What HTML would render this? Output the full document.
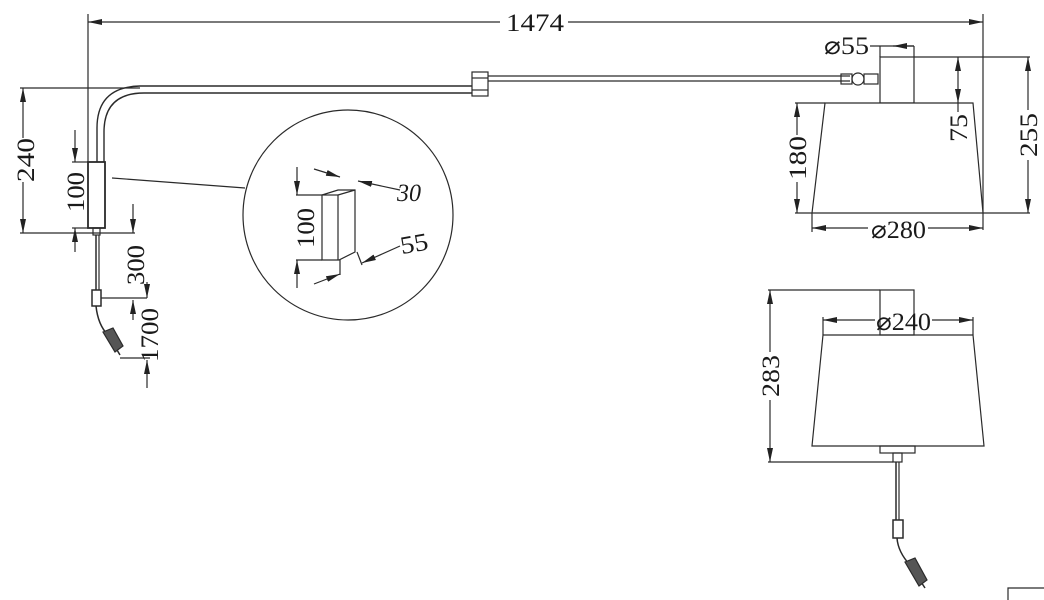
<!DOCTYPE html>
<html><head><meta charset="utf-8"><style>
html,body{margin:0;padding:0;background:#fff;width:1044px;height:600px;overflow:hidden}
text{font-family:"Liberation Serif",serif;fill:#1a1a1a}
</style></head><body>
<svg width="1044" height="600" viewBox="0 0 1044 600" xmlns="http://www.w3.org/2000/svg">
<defs>
<marker id="a" viewBox="0 0 14 6" refX="14" refY="3" markerWidth="14" markerHeight="6" orient="auto-start-reverse" markerUnits="userSpaceOnUse"><path d="M0,0L14,3L0,6z" fill="#222"/></marker>
</defs>
<g stroke="#2a2a2a" stroke-width="1.2" fill="none">
<line x1="88" y1="14" x2="88" y2="162"/>
<line x1="983" y1="14" x2="983" y2="230"/>
<line x1="88" y1="22" x2="500" y2="22" marker-start="url(#a)"/>
<line x1="568" y1="22" x2="983" y2="22" marker-end="url(#a)"/>
<path d="M97,162 V128 Q97,87 140,86 H472" stroke-width="1.4"/>
<path d="M104,162 V132 Q104,93 144,93 H472" stroke-width="1.4"/>
<line x1="488" y1="76" x2="850" y2="76"/>
<line x1="488" y1="81" x2="850" y2="81"/>
<rect x="472" y="72" width="16" height="24" fill="#fff"/>
<line x1="472" y1="78" x2="488" y2="78"/>
<line x1="472" y1="90" x2="488" y2="90"/>
<rect x="88" y="162" width="17" height="66" stroke-width="1.8"/>
<rect x="93" y="228" width="7" height="7"/>
<line x1="96" y1="235" x2="96" y2="290" stroke-width="1.5"/>
<line x1="99" y1="235" x2="99" y2="290"/>
<rect x="92" y="290" width="9" height="16" stroke-width="1.5"/>
<path d="M96,306 Q98,325 108,335 L120,355" stroke-width="1.5"/>
<path d="M103,332 l10,-4 l10,18 l-8,6 z" fill="#555"/>
<line x1="20" y1="88" x2="140" y2="88"/>
<line x1="20" y1="233" x2="135" y2="233"/>
<line x1="23" y1="88" x2="23" y2="138" marker-start="url(#a)"/>
<line x1="23" y1="182" x2="23" y2="233" marker-end="url(#a)"/>
<line x1="72" y1="162" x2="88" y2="162"/>
<line x1="75" y1="130" x2="75" y2="162" marker-end="url(#a)"/>
<line x1="75" y1="252" x2="75" y2="228" marker-end="url(#a)"/>
<line x1="72" y1="228" x2="88" y2="228"/>
<line x1="133" y1="204" x2="133" y2="233" marker-end="url(#a)"/>
<line x1="101" y1="298" x2="147" y2="298"/>
<line x1="147" y1="282" x2="147" y2="298" marker-end="url(#a)"/>
<line x1="133" y1="320" x2="133" y2="300" marker-end="url(#a)"/>
<line x1="120" y1="358" x2="150" y2="358"/>
<line x1="147" y1="388" x2="147" y2="360" marker-end="url(#a)"/>
<line x1="112" y1="178" x2="245" y2="188"/>
<circle cx="348" cy="215" r="105"/>
<path d="M322,195 L338,190 L355,190 L355,252 L339,260 L322,260 Z"/>
<line x1="322" y1="195" x2="338" y2="195"/><line x1="338" y1="195" x2="355" y2="190"/>
<line x1="338" y1="195" x2="338" y2="260"/>
<line x1="296" y1="195" x2="322" y2="195"/>
<line x1="296" y1="260" x2="322" y2="260"/>
<line x1="297" y1="167" x2="297" y2="195" marker-end="url(#a)"/>
<line x1="297" y1="288" x2="297" y2="260" marker-end="url(#a)"/>
<line x1="314" y1="169" x2="340" y2="177" marker-end="url(#a)"/>
<line x1="358" y1="181" x2="400" y2="190" marker-start="url(#a)"/>
<line x1="314" y1="284" x2="340" y2="274" marker-end="url(#a)"/>
<line x1="362" y1="263" x2="400" y2="246" marker-start="url(#a)"/>
<line x1="340" y1="260" x2="340" y2="275"/><line x1="357" y1="252" x2="362" y2="265"/>
<circle cx="858" cy="79" r="6" fill="#fff"/>
<rect x="841" y="74" width="11" height="10"/>
<rect x="864" y="74" width="14" height="10"/>
<rect x="880" y="57" width="34" height="46" fill="#fff"/>
<path d="M825,103 H973 L983,213 H812 Z" fill="#fff"/>
<line x1="870" y1="46" x2="914" y2="46"/>
<line x1="880" y1="46" x2="880" y2="57"/><line x1="914" y1="46" x2="914" y2="57"/>
<line x1="914" y1="46" x2="893" y2="46" marker-end="url(#a)"/>
<line x1="914" y1="57" x2="1030" y2="57"/>
<line x1="958" y1="57" x2="958" y2="88" marker-start="url(#a)"/>
<line x1="958" y1="88" x2="958" y2="103" marker-end="url(#a)"/>
<line x1="958" y1="103" x2="958" y2="112"/>
<line x1="1028" y1="57" x2="1028" y2="110" marker-start="url(#a)"/>
<line x1="1028" y1="160" x2="1028" y2="213" marker-end="url(#a)"/>
<line x1="983" y1="213" x2="1030" y2="213"/>
<line x1="795" y1="103" x2="825" y2="103"/>
<line x1="795" y1="213" x2="812" y2="213"/>
<line x1="797" y1="103" x2="797" y2="135" marker-start="url(#a)"/>
<line x1="797" y1="182" x2="797" y2="213" marker-end="url(#a)"/>
<line x1="812" y1="213" x2="812" y2="232"/>
<line x1="812" y1="228" x2="868" y2="228" marker-start="url(#a)"/>
<line x1="928" y1="228" x2="983" y2="228" marker-end="url(#a)"/>
<rect x="880" y="290" width="34" height="45"/>
<path d="M823,335 H973 L984,446 H812 Z"/>
<rect x="880" y="446" width="35" height="7"/>
<rect x="893" y="453" width="9" height="9"/>
<line x1="896" y1="462" x2="896" y2="520" stroke-width="1.5"/>
<line x1="899" y1="462" x2="899" y2="520"/>
<rect x="893" y="520" width="10" height="18" stroke-width="1.5"/>
<path d="M897,538 Q898,552 910,565 L925,588" stroke-width="1.5"/>
<path d="M905,562 l10,-4 l12,22 l-8,6 z" fill="#555"/>
<line x1="768" y1="290" x2="880" y2="290"/>
<line x1="768" y1="462" x2="893" y2="462"/>
<line x1="770" y1="290" x2="770" y2="352" marker-start="url(#a)"/>
<line x1="770" y1="400" x2="770" y2="462" marker-end="url(#a)"/>
<line x1="823" y1="317" x2="823" y2="335"/><line x1="973" y1="317" x2="973" y2="335"/>
<line x1="823" y1="320" x2="875" y2="320" marker-start="url(#a)"/>
<line x1="932" y1="320" x2="973" y2="320" marker-end="url(#a)"/>
<path d="M1008,600 V588 H1044"/>
</g>
<g font-size="25">
<text x="506" y="31" textLength="58" lengthAdjust="spacingAndGlyphs">1474</text>
<text transform="translate(34,160) rotate(-90)" x="-22" textLength="44" lengthAdjust="spacingAndGlyphs">240</text>
<text transform="translate(84,192) rotate(-90)" x="-20" textLength="40" lengthAdjust="spacingAndGlyphs">100</text>
<text transform="translate(144,265) rotate(-90)" x="-20" textLength="40" lengthAdjust="spacingAndGlyphs">300</text>
<text transform="translate(158,335) rotate(-90)" x="-27" textLength="54" lengthAdjust="spacingAndGlyphs">1700</text>
<text transform="translate(314,228) rotate(-90)" x="-20" textLength="40" lengthAdjust="spacingAndGlyphs">100</text>
<text x="397" y="201" font-style="italic" textLength="24" lengthAdjust="spacingAndGlyphs">30</text>
<text x="400" y="252" textLength="28" lengthAdjust="spacingAndGlyphs" transform="rotate(-10 413 243)">55</text>
<text x="824" y="54" textLength="45" lengthAdjust="spacingAndGlyphs">⌀55</text>
<text transform="translate(967,128) rotate(-90)" x="-14" textLength="28" lengthAdjust="spacingAndGlyphs">75</text>
<text transform="translate(1037,135) rotate(-90)" x="-22" textLength="44" lengthAdjust="spacingAndGlyphs">255</text>
<text transform="translate(806,158) rotate(-90)" x="-22" textLength="44" lengthAdjust="spacingAndGlyphs">180</text>
<text x="871" y="238" textLength="55" lengthAdjust="spacingAndGlyphs">⌀280</text>
<text transform="translate(779,376) rotate(-90)" x="-21" textLength="42" lengthAdjust="spacingAndGlyphs">283</text>
<text x="876" y="330" textLength="55" lengthAdjust="spacingAndGlyphs">⌀240</text>
</g>
</svg>
</body></html>
